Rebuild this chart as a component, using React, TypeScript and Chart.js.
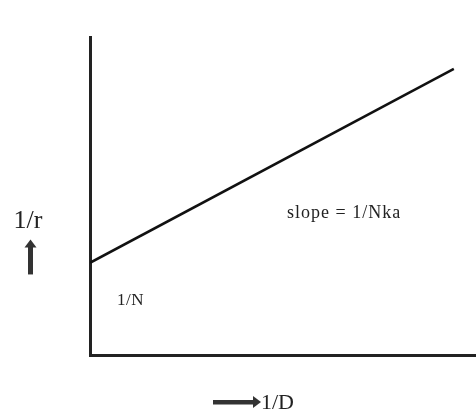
import React, { useEffect, useRef } from "react";
import { Chart, registerables } from "chart.js";

Chart.register(...registerables);

// Line data: 1/r versus 1/D (arbitrary units)
const lineX = [0, 9.45];
const lineY = [2.9, 9.0];

// Annotation labels placed in data coordinates
const slopeLabel = "slope = 1/Nka";
const slopePos = { x: 6.6, y: 4.45 };
const interceptLabel = "1/N";
const interceptPos = { x: 1.05, y: 1.72 };
const yAxisLabel = "1/r";
const xAxisLabel = "1/D";

const annotationPlugin = {
  id: "annotations",
  afterDraw(chart: any) {
    const { ctx, chartArea, scales } = chart;
    const xs = scales.x;
    const ys = scales.y;
    ctx.save();
    ctx.fillStyle = "#222";
    ctx.textBaseline = "middle";
    ctx.textAlign = "center";

    ctx.font = "18px 'Liberation Serif', serif";
    (ctx as any).letterSpacing = "1px";
    ctx.fillText(slopeLabel, xs.getPixelForValue(slopePos.x), ys.getPixelForValue(slopePos.y));
    (ctx as any).letterSpacing = "0.5px";
    ctx.font = "17px 'Liberation Serif', serif";
    ctx.fillText(interceptLabel, xs.getPixelForValue(interceptPos.x), ys.getPixelForValue(interceptPos.y));
    (ctx as any).letterSpacing = "0px";

    // y label with up arrow, left of axis
    const ly = chartArea.top + (chartArea.bottom - chartArea.top) * 0.58;
    const lx = chartArea.left - 60;
    ctx.font = "26px 'Liberation Serif', serif";
    ctx.fillText(yAxisLabel, lx - 2, ly);
    ctx.fillStyle = "#333";
    ctx.fillRect(lx - 2, ly + 24, 5, 29);
    ctx.beginPath();
    ctx.moveTo(lx - 5.5, ly + 26);
    ctx.lineTo(lx + 0.5, ly + 18);
    ctx.lineTo(lx + 6.5, ly + 26);
    ctx.closePath();
    ctx.fill();

    // x label with right arrow, below axis
    const bx = chartArea.left + 123;
    const by = chartArea.bottom + 47;
    ctx.fillRect(bx, by - 2, 42, 4.5);
    ctx.beginPath();
    ctx.moveTo(bx + 40, by - 6);
    ctx.lineTo(bx + 48, by);
    ctx.lineTo(bx + 40, by + 6);
    ctx.closePath();
    ctx.fill();
    ctx.fillStyle = "#222";
    ctx.font = "22px 'Liberation Serif', serif";
    ctx.textAlign = "left";
    ctx.fillText(xAxisLabel, bx + 48, by + 1);
    ctx.restore();
  },
};

export default function App() {
  const ref = useRef<HTMLCanvasElement>(null);
  useEffect(() => {
    document.body.style.margin = "0";
    const chart = new Chart(ref.current!, {
      type: "line",
      data: {
        datasets: [
          {
            data: lineX.map((x, i) => ({ x, y: lineY[i] })),
            borderColor: "#111",
            borderWidth: 2.5,
            pointRadius: 0,
            fill: false,
          },
        ],
      },
      options: {
        animation: false,
        responsive: false,
        layout: { padding: { left: 82, top: 37, right: 1, bottom: 53 } },
        plugins: { legend: { display: false }, tooltip: { enabled: false } },
        scales: {
          x: {
            type: "linear",
            min: 0,
            max: 10,
            ticks: { display: false },
            grid: { display: false },
            border: { display: true, color: "#222", width: 3 },
          },
          y: {
            type: "linear",
            min: 0,
            max: 10,
            ticks: { display: false },
            grid: { display: false },
            border: { display: true, color: "#222", width: 3 },
          },
        },
      },
      plugins: [annotationPlugin],
    });
    return () => chart.destroy();
  }, []);
  return <canvas ref={ref} width={476} height={416} style={{ display: "block" }} />;
}
